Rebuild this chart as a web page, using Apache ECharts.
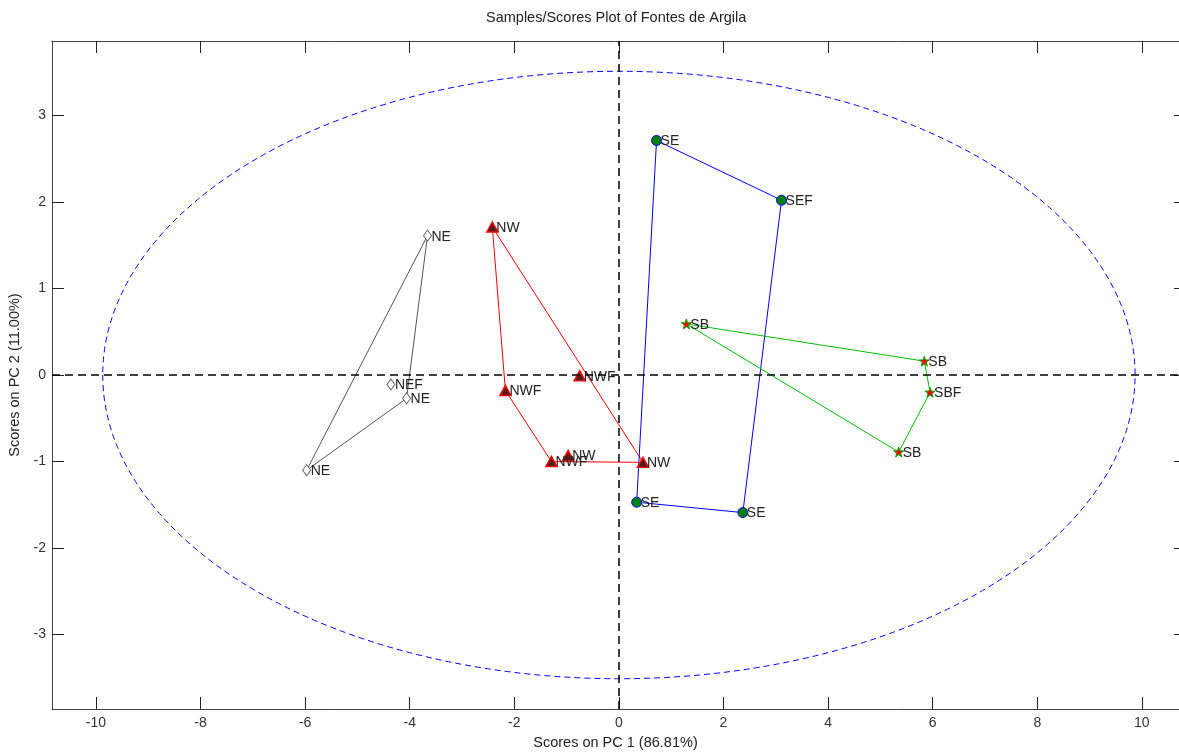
<!DOCTYPE html>
<html>
<head>
<meta charset="utf-8">
<script src="https://cdn.jsdelivr.net/npm/echarts@6/dist/echarts.min.js"></script>
<style>html,body{margin:0;padding:0;background:#fff;overflow:hidden}#chart{width:1179px;height:753px}</style>
</head>
<body>
<div id="chart"></div>
<script>
// ---- data ----
const xTicks = [-10, -8, -6, -4, -2, 0, 2, 4, 6, 8, 10];
const yTicks = [-3, -2, -1, 0, 1, 2, 3];

const neX = [-3.66, -4.36, -4.06, -5.97];
const neY = [1.61, -0.11, -0.27, -1.10];
const neLabels = ['NE', 'NEF', 'NE', 'NE'];

const nwX = [-2.42, -2.17, -0.75, -1.29, -0.97, 0.46];
const nwY = [1.71, -0.18, -0.01, -1.00, -0.93, -1.01];
const nwLabels = ['NW', 'NWF', 'NWF', 'NWF', 'NW', 'NW'];

const seX = [0.72, 3.11, 0.34, 2.37];
const seY = [2.71, 2.02, -1.47, -1.59];
const seLabels = ['SE', 'SEF', 'SE', 'SE'];

const sbX = [1.29, 5.84, 5.95, 5.35];
const sbY = [0.59, 0.16, -0.20, -0.89];
const sbLabels = ['SB', 'SB', 'SBF', 'SB'];

const ellipseCenter = [0, 0];
const ellipseRadii = [9.87, 3.51];

// visible axis window (image is cropped on the right)
const xMin = -10.84, xMax = 10.71;
const yMin = -3.86, yMax = 3.86;

// ---- helpers ----
function pts(xs, ys, labels) { return xs.map((x, i) => ({ value: [x, ys[i]], name: labels[i] })); }
function hull(xs, ys) {
  const p = xs.map((x, i) => [x, ys[i]]).sort((a, b) => a[0] - b[0] || a[1] - b[1]);
  const cross = (o, a, b) => (a[0] - o[0]) * (b[1] - o[1]) - (a[1] - o[1]) * (b[0] - o[0]);
  const lower = [], upper = [];
  for (const q of p) { while (lower.length >= 2 && cross(lower[lower.length - 2], lower[lower.length - 1], q) <= 0) lower.pop(); lower.push(q); }
  for (let i = p.length - 1; i >= 0; i--) { const q = p[i]; while (upper.length >= 2 && cross(upper[upper.length - 2], upper[upper.length - 1], q) <= 0) upper.pop(); upper.push(q); }
  upper.pop(); lower.pop();
  const h = lower.concat(upper); h.push(h[0]); return h;
}

const FONT = 'Liberation Sans, Arial, sans-serif';
const labelStyle = { show: true, position: ['50%', '50%'], align: 'left', verticalAlign: 'middle', offset: [4, 1], formatter: '{b}', fontFamily: FONT, fontSize: 14, color: '#222' };
const star = 'path://M0,-10 L2.35,-3.24 L9.51,-3.09 L3.8,1.24 L5.88,8.09 L0,4 L-5.88,8.09 L-3.8,1.24 L-9.51,-3.09 L-2.35,-3.24 Z';

const groups = [
  { xs: neX, ys: neY, labels: neLabels, line: '#555555', symbol: 'diamond', size: [8, 11], fill: '#ffffff', border: '#666666', bw: 1 },
  { xs: nwX, ys: nwY, labels: nwLabels, line: '#ff0000', symbol: 'triangle', size: [11, 10], fill: '#4a2020', border: '#ff0000', bw: 1.5 },
  { xs: seX, ys: seY, labels: seLabels, line: '#0000ff', symbol: 'circle', size: 10, fill: '#008000', border: '#0000ff', bw: 1 },
  { xs: sbX, ys: sbY, labels: sbLabels, line: '#00c000', symbol: star, size: 10, fill: '#ff0000', border: '#00b000', bw: 1 }
];

const series = [];
series.push({
  type: 'custom', silent: true, z: 1,
  renderItem: function (params, api) {
    const c = api.coord(ellipseCenter);
    const s = api.size(ellipseRadii);
    const rx = s[0], ry = s[1];
    return {
      type: 'path',
      shape: { pathData: `M ${c[0] - rx} ${c[1]} A ${rx} ${ry} 0 1 0 ${c[0] + rx} ${c[1]} A ${rx} ${ry} 0 1 0 ${c[0] - rx} ${c[1]} Z` },
      style: { fill: 'none', stroke: '#0000ff', lineWidth: 1, lineDash: [6, 4] }
    };
  },
  data: [ellipseCenter]
});

groups.forEach((g, gi) => {
  const ln = {
    type: 'line', data: hull(g.xs, g.ys), symbol: 'none', silent: true, z: 2,
    lineStyle: { color: g.line, width: 1 }, itemStyle: { color: g.line }, animation: false
  };
  if (gi === 0) {
    ln.markLine = {
      silent: true, symbol: 'none', label: { show: false }, animation: false,
      lineStyle: { color: '#000', type: [8, 5], width: 1.5 },
      data: [{ xAxis: 0 }, { yAxis: 0 }]
    };
  }
  series.push(ln);
  series.push({
    type: 'scatter', data: pts(g.xs, g.ys, g.labels), symbol: g.symbol, symbolSize: g.size, z: 3,
    itemStyle: { color: g.fill, borderColor: g.border, borderWidth: g.bw, opacity: 1 },
    label: labelStyle, animation: false
  });
});

const tickLabel = { fontFamily: FONT, fontSize: 14, color: '#333' };
const nameStyle = { fontFamily: FONT, fontSize: 14.5, color: '#222' };
const chart = echarts.init(document.getElementById('chart'), null, { renderer: 'canvas' });
chart.setOption({
  animation: false,
  backgroundColor: '#fff',
  title: { text: 'Samples/Scores Plot of Fontes de Argila', left: 481, top: 5, textStyle: { fontFamily: FONT, fontSize: 14.5, fontWeight: 'normal', color: '#222' } },
  grid: { left: 52, top: 41, right: 0, bottom: 44, containLabel: false, outerBoundsMode: 'none' },
  xAxis: [
    { type: 'value', min: xMin, max: xMax, position: 'bottom',
      name: 'Scores on PC 1 (86.81%)', nameLocation: 'middle', nameGap: 26,
      nameTextStyle: nameStyle,
      axisLine: { onZero: false, lineStyle: { color: '#444', width: 1 } },
      axisTick: { inside: true, length: 12, customValues: xTicks, lineStyle: { color: '#222' } },
      axisLabel: Object.assign({ customValues: xTicks, margin: 7 }, tickLabel),
      splitLine: { show: false } },
    { type: 'value', min: xMin, max: xMax, position: 'top',
      axisLine: { onZero: false, lineStyle: { color: '#444', width: 1 } },
      axisTick: { inside: true, length: 12, customValues: xTicks, lineStyle: { color: '#222' } },
      axisLabel: { show: false }, splitLine: { show: false } }
  ],
  yAxis: [
    { type: 'value', min: yMin, max: yMax, position: 'left',
      name: 'Scores on PC 2 (11.00%)', nameLocation: 'middle', nameGap: 25, nameRotate: 90,
      nameTextStyle: nameStyle,
      axisLine: { onZero: false, lineStyle: { color: '#444', width: 1 } },
      axisTick: { inside: true, length: 12, customValues: yTicks, lineStyle: { color: '#222' } },
      axisLabel: Object.assign({ customValues: yTicks, margin: 6 }, tickLabel),
      splitLine: { show: false } },
    { type: 'value', min: yMin, max: yMax, position: 'right',
      axisLine: { show: false, onZero: false },
      axisTick: { inside: true, length: 5, customValues: yTicks, lineStyle: { color: '#222' } },
      axisLabel: { show: false }, splitLine: { show: false } }
  ],
  series: series
});
</script>
</body>
</html>
